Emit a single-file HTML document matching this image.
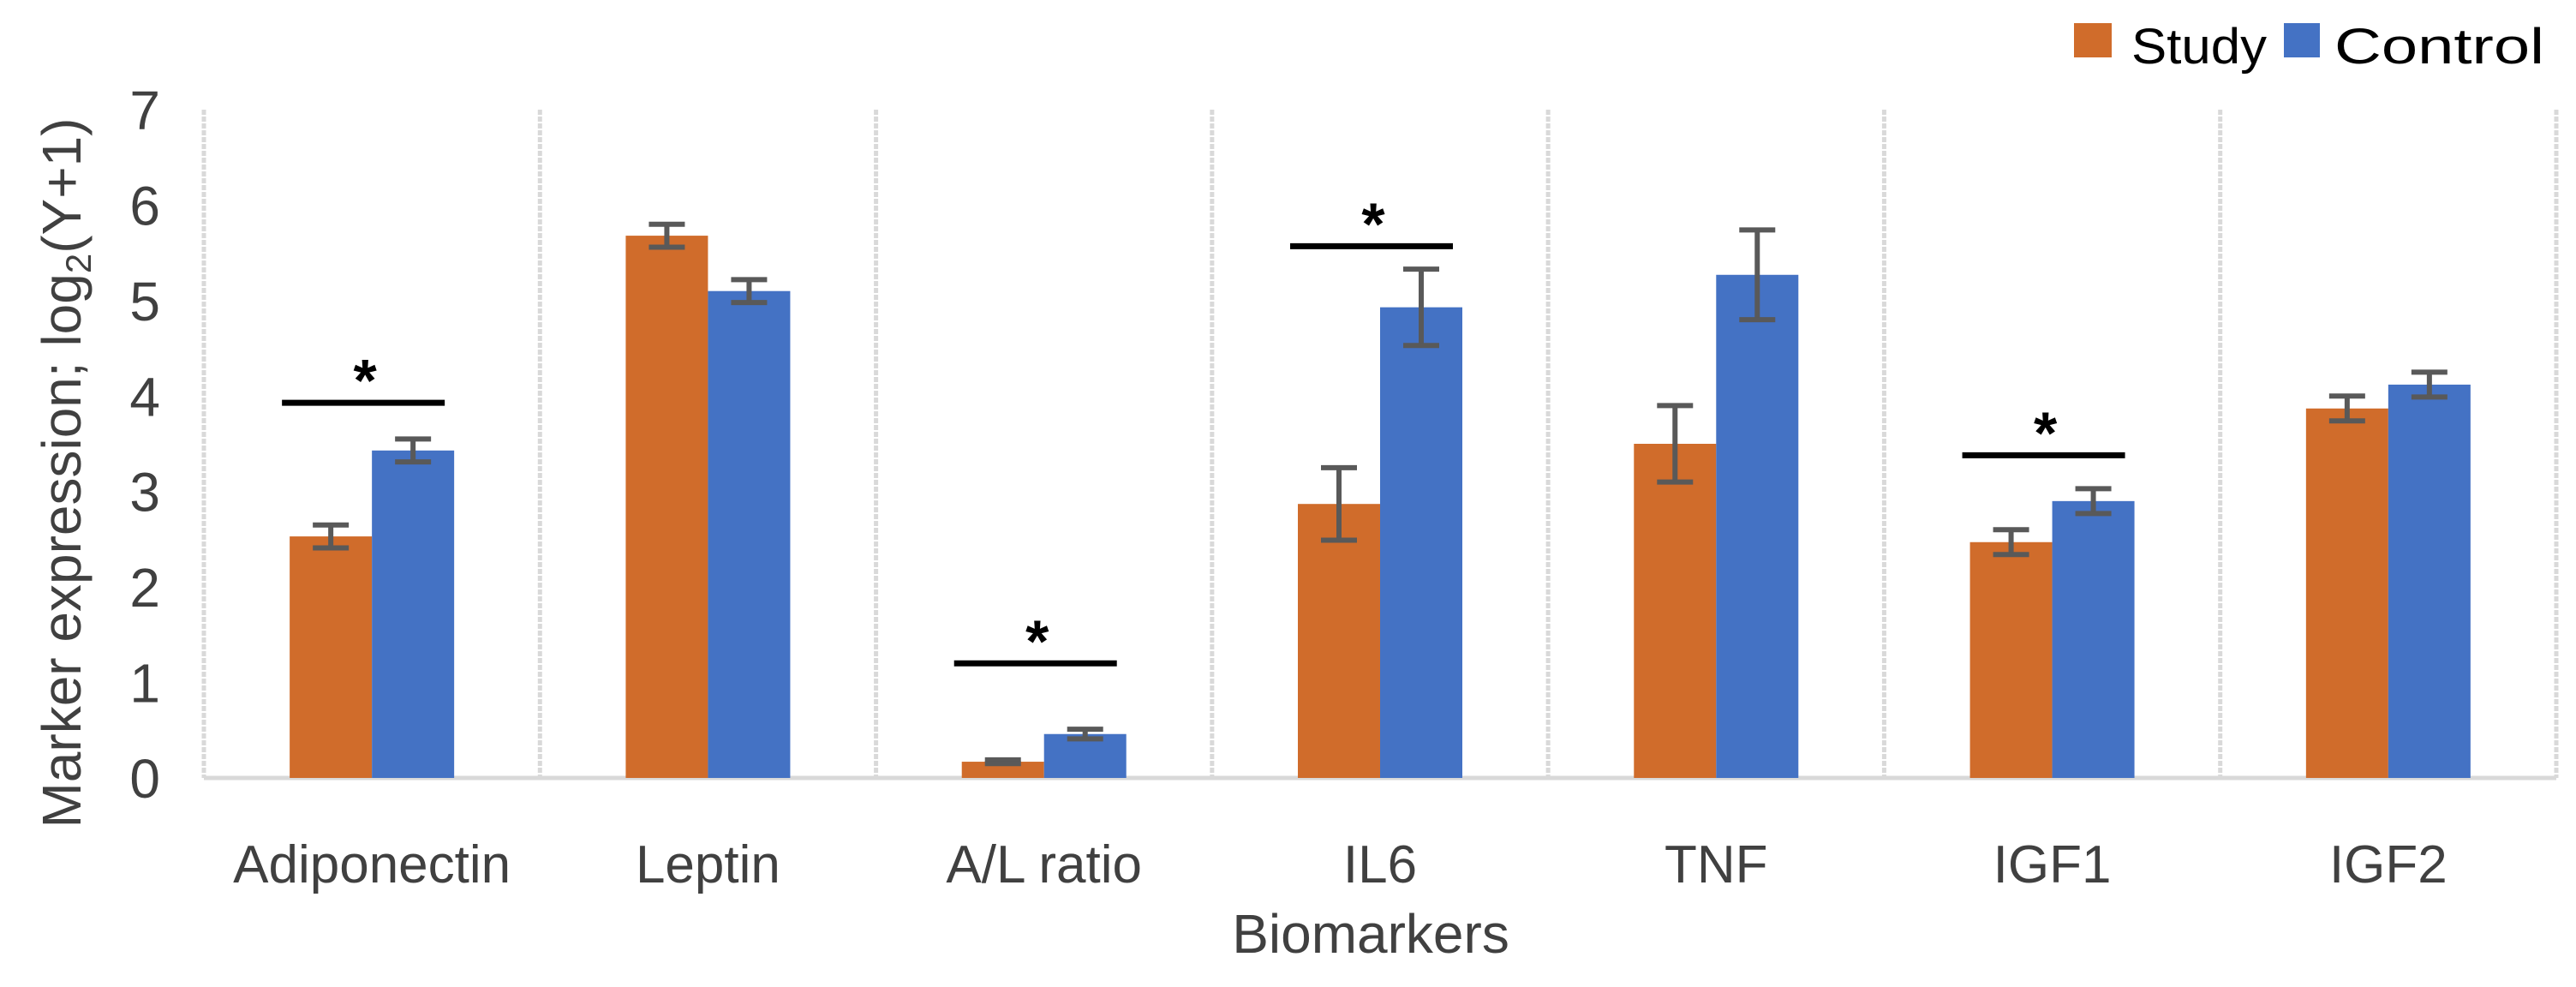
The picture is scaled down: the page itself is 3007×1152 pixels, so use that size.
<!DOCTYPE html>
<html><head><meta charset="utf-8"><style>
html,body{margin:0;padding:0;background:#fff;}
svg{display:block;}
</style></head><body>
<svg id="chart" width="3007" height="1152" viewBox="0 0 3007 1152" xmlns="http://www.w3.org/2000/svg" font-family="'Liberation Sans', Arial, sans-serif"></svg>
<script>
const categories = ["Adiponectin","Leptin","A/L ratio","IL6","TNF","IGF1","IGF2"];
const studyValues = [2.53,5.68,0.17,2.87,3.50,2.47,3.87];
const studyErrors = [0.12,0.12,0.02,0.38,0.40,0.13,0.13];
const controlValues = [3.43,5.10,0.46,4.93,5.27,2.90,4.12];
const controlErrors = [0.12,0.12,0.05,0.40,0.47,0.13,0.13];
const sigCategories = ["Adiponectin","A/L ratio","IL6","IGF1"];
const sigLevels = [3.93,1.20,5.57,3.38];
const yTicks = [0,1,2,3,4,5,6,7];

const svg = document.getElementById('chart');
const NS = 'http://www.w3.org/2000/svg';
const L = 238, R = 2984, T = 128, B = 908, YMAX = 7;
const bandW = (R - L) / categories.length;
const barW = 96;
function y(v){ return B - (v / YMAX) * (B - T); }
function xc(i){ return L + bandW * (i + 0.5); }
function mk(tag, attrs){ const e = document.createElementNS(NS, tag); for (const k in attrs) e.setAttribute(k, attrs[k]); svg.appendChild(e); return e; }

for (let i = 0; i <= categories.length; i++) {
  const d = mk('line', {x1: L + bandW*i, x2: L + bandW*i, y1: T, y2: B, stroke: '#d9d9d9', 'stroke-width': 5, 'stroke-dasharray': '6 2'});
  
  
}
const base = mk('line', {x1: L, x2: R, y1: B, y2: B, stroke: '#d9d9d9', 'stroke-width': 5});



yTicks.forEach(t => {
  const tx = mk('text', {x: 187, y: y(t) + 23, 'text-anchor': 'end', 'font-size': 64, fill: '#404040'});
  tx.textContent = t;
  
  
});

categories.forEach((c, i) => {
  const cx = xc(i);
  const sb = mk('rect', {x: cx - barW, y: y(studyValues[i]), width: barW, height: B - y(studyValues[i]), fill: '#d06c2b'});
  
  
  const cb = mk('rect', {x: cx, y: y(controlValues[i]), width: barW, height: B - y(controlValues[i]), fill: '#4472c4'});
  
  
  [[cx - barW/2, studyValues[i], studyErrors[i]], [cx + barW/2, controlValues[i], controlErrors[i]]].forEach(([ex, v, e]) => {
    const g = document.createElementNS(NS, 'g');
    g.setAttribute('stroke', '#595959'); g.setAttribute('stroke-width', 6);
    
    
    svg.appendChild(g);
    [[ex, ex, y(v+e), y(v-e)], [ex-21, ex+21, y(v+e), y(v+e)], [ex-21, ex+21, y(v-e), y(v-e)]].forEach(p => {
      const l = document.createElementNS(NS, 'line');
      l.setAttribute('x1', p[0]); l.setAttribute('x2', p[1]); l.setAttribute('y1', p[2]); l.setAttribute('y2', p[3]);
      g.appendChild(l);
    });
  });
  const lab = mk('text', {x: cx, y: 1030, 'text-anchor': 'middle', 'font-size': 62, fill: '#404040'});
  lab.textContent = c;
  
  
});

sigCategories.forEach((c, k) => {
  const i = categories.indexOf(c);
  const cx = xc(i) - 10;
  const ly = y(sigLevels[k]);
  const l = mk('line', {x1: cx - 95, x2: cx + 95, y1: ly, y2: ly, stroke: '#000', 'stroke-width': 7});
  
  
  const s = mk('text', {x: cx + 2, y: ly - 2, 'text-anchor': 'middle', 'font-size': 70, 'font-weight': 'bold', fill: '#000'});
  s.textContent = '*';
  
  
});
</script>
<script>
(function(){
const svg = document.getElementById('chart');
const NS = 'http://www.w3.org/2000/svg';
function mk(tag, attrs){ const e = document.createElementNS(NS, tag); for (const k in attrs) e.setAttribute(k, attrs[k]); svg.appendChild(e); return e; }
const xt = mk('text', {x: 1600, y: 1112, 'text-anchor': 'middle', 'font-size': 64, fill: '#404040'});
xt.textContent = 'Biomarkers';


const yt = mk('text', {x: 0, y: 0, 'text-anchor': 'middle', 'font-size': 64, fill: '#404040', transform: 'translate(94,552) rotate(-90)'});
yt.innerHTML = 'Marker expression; log<tspan font-size="42" dy="12">2</tspan><tspan dy="-12">(Y+1)</tspan>';


const s1 = mk('rect', {x: 2421, y: 27, width: 44, height: 40, fill: '#d06c2b'});


const t1 = mk('text', {x: 2488, y: 74, 'font-size': 58, fill: '#000', 'font-family': "'Liberation Sans Narrow','Liberation Sans',sans-serif", textLength: 158, lengthAdjust: 'spacingAndGlyphs'});
t1.textContent = 'Study';


const s2 = mk('rect', {x: 2666, y: 27, width: 42, height: 40, fill: '#4472c4'});


const t2 = mk('text', {x: 2725, y: 74, 'font-size': 58, fill: '#000', 'font-family': "'Liberation Sans Narrow','Liberation Sans',sans-serif", textLength: 245, lengthAdjust: 'spacingAndGlyphs'});
t2.textContent = 'Control';


})();
</script>
</body></html>
